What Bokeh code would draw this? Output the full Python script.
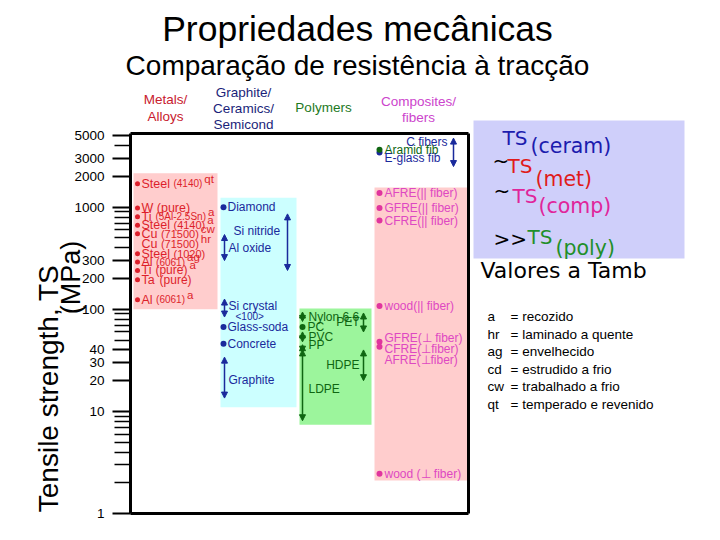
import math
from bokeh.plotting import figure
from bokeh.models import (Range1d, FixedTicker, ColumnDataSource, Arrow, NormalHead,
                          NumeralTickFormatter, Grid)
from bokeh.core.properties import value
from bokeh.embed import file_html
from bokeh.resources import INLINE

# ======================= DATA =======================
TITLE = "Propriedades mecânicas"
SUBTITLE = "Comparação de resistência à tracção"
Y_TITLE = "Tensile strength, TS"
Y_UNIT = "(MPa)"

y_major_ticks = [1, 10, 20, 30, 40, 100, 200, 300, 1000, 2000, 3000, 5000]
y_minor_ticks = [2, 3, 4, 5, 6, 7, 8, 9, 50, 60, 70, 80, 90,
                 400, 500, 600, 700, 800, 900, 4000]
axis_min, axis_max = 1, 5270

class_headers = [["Metals/", "Alloys"], ["Graphite/", "Ceramics/", "Semicond"],
                 ["Polymers"], ["Composites/", "fibers"]]
class_lo = [100, 11, 7.4, 2.1]
class_hi = [2150, 1240, 102, 1560]

metal_names = ["Steel", "W", "Ti", "Steel", "Cu", "Cu", "Steel", "Al", "Ti", "Ta", "Al"]
metal_grades = ["(4140)", "(pure)", "(5Al-2.5Sn)", "(4140)", "(71500)", "(71500)",
                "(1020)", "(6061)", "(pure)", "(pure)", "(6061)"]
metal_conditions = ["qt", "", "a", "a", "cw", "hr", "", "ag", "a", "", "a"]
metal_ts = [1700, 980, 805, 665, 550, 435, 350, 290, 240, 195, 124]

ceramic_points = ["Diamond", "Glass-soda", "Concrete"]
ceramic_point_ts = [1000, 67, 46]
ceramic_ranges = ["Si nitride", "Al oxide", "Si crystal", "Graphite"]
ceramic_range_notes = ["", "", "<100>", ""]
ceramic_lo = [240, 300, 84, 13.5]
ceramic_hi = [860, 540, 126, 34]

polymer_points = ["PC"]
polymer_point_ts = [67]
polymer_ranges = ["Nylon 6,6", "PVC", "PP", "LDPE", "PET", "HDPE"]
polymer_lo = [76, 48, 38, 8.1, 60, 20]
polymer_hi = [94, 60, 45, 40, 92, 40]

fiber_ranges = ["C fibers"]
fiber_lo = [2500]
fiber_hi = [4750]
fiber_points = ["Aramid fib", "E-glass fib"]
fiber_point_ts = [3650, 3430]

composite_names = ["AFRE(|| fiber)", "GFRE(|| fiber)", "CFRE(|| fiber)", "wood(|| fiber)",
                   "GFRE(⊥ fiber)", "CFRE(⊥fiber)", "AFRE(⊥fiber)", "wood (⊥ fiber)"]
composite_ts = [1380, 980, 740, 108, 48, 43, 32, 2.45]

summary_prefix = ["", "~", "~", ">>"]
summary_main = ["TS", "TS", "TS", "TS"]
summary_sub = ["(ceram)", "(met)", "(comp)", "(poly)"]
AMBIENT = "Valores a Tamb"

abbrevs = ["a", "hr", "ag", "cd", "cw", "qt"]
abbrev_meanings = ["= recozido", "= laminado a quente", "= envelhecido",
                   "= estrudido a frio", "= trabalhado a frio", "= temperado e revenido"]

# ======================= LAYOUT / STYLE =======================
FONT = "Liberation Sans"
FONT_WIDE = "DejaVu Sans"
RED = "#dd1f2b"
BLUE = "#1a2a9c"
GREEN = "#0f6612"
MAG_DOT = "#e0359e"
MAG_TXT = "#de48c2"
C_PINK = "#ffcdcd"
C_CYAN = "#ccffff"
C_GREEN = "#9cf59c"
C_LAV = "#cfcffa"

REF_ONE = 513.0                       # canvas row of TS = 1
PPD = (REF_ONE - 133.0) / math.log10(axis_max)


def Y(row):
    return 10 ** ((REF_ONE - row) / PPD)


def X(col):
    return col - 130.0


AW = {' ': 278, '(': 333, ')': 333, '-': 333, '.': 278, ',': 278, '/': 278, '|': 260,
      'A': 667, 'C': 722, 'S': 667, 'T': 611, 'W': 944, 'l': 222, 'i': 222, 't': 278,
      'r': 333, 'f': 278, 'm': 833, 'c': 500, 's': 500, 'y': 500}


def tw(s, size):
    w = 0
    for ch in s:
        if ch in AW:
            w += AW[ch]
        elif ch.isdigit():
            w += 556
        elif ch.isupper():
            w += 667
        else:
            w += 556
    return w / 1000.0 * size


p = figure(width=704, height=524, x_range=Range1d(X(0), X(704)), y_range=Range1d(Y(524), Y(0)),
           y_axis_type="log", x_axis_location=None, toolbar_location=None,
           output_backend="svg", min_border_left=0, min_border_right=0,
           min_border_top=0, min_border_bottom=0, outline_line_color=None,
           background_fill_color="white", border_fill_color="white")
for r in p.center:
    if isinstance(r, Grid):
        r.visible = False

ax = p.yaxis[0]
ax.fixed_location = 0
ax.ticker = FixedTicker(ticks=y_major_ticks, minor_ticks=y_minor_ticks)
ax.formatter = NumeralTickFormatter(format="0")
ax.bounds = (axis_min, axis_max)
ax.axis_line_width = 3
ax.axis_line_color = "black"
ax.major_tick_out = 18
ax.major_tick_in = 0
ax.minor_tick_out = 16
ax.minor_tick_in = 0
ax.major_tick_line_width = 2
ax.minor_tick_line_width = 1.5
ax.major_label_standoff = 8
ax.major_label_text_font = FONT
ax.major_label_text_font_size = "13.5px"
ax.major_label_text_color = "black"


def add_text(xs, ys, texts, color, size, align="left", xo=0, yo=0, baseline="middle",
             angle=0, font=FONT):
    n = len(texts)

    def col(v):
        return list(v) if isinstance(v, (list, tuple)) else [v] * n
    src = ColumnDataSource(dict(x=col(xs), y=col(ys), text=list(texts), xo=col(xo), yo=col(yo),
                                fs=[f"{s}px" for s in col(size)], c=col(color)))
    p.text(x="x", y="y", text="text", x_offset="xo", y_offset="yo", text_font_size="fs",
           source=src, text_color="c", text_align=align, text_baseline=baseline,
           text_font=value(font), angle=angle)


def add_arrows(xs, lo, hi, color):
    src = ColumnDataSource(dict(x=xs, lo=lo, hi=hi))
    p.add_layout(Arrow(start=NormalHead(size=6, fill_color=color, line_color=color, line_width=1),
                       end=NormalHead(size=6, fill_color=color, line_color=color, line_width=1),
                       x_start="x", y_start="lo", x_end="x", y_end="hi", source=src,
                       line_color=color, line_width=1.5))


# ---- class boxes ----
class_left = [3, 90, 169, 244]
class_right = [87, 166, 241, 337]
class_fill = [C_PINK, C_CYAN, C_GREEN, C_PINK]
p.quad(left=class_left, right=class_right, bottom=class_lo, top=class_hi,
       fill_color=class_fill, line_color=None)

# legend box
p.quad(left=[X(473)], right=[X(684)], bottom=[Y(258)], top=[Y(120)],
       fill_color=C_LAV, line_color=None)

# frame border
p.segment(x0=[0, 0, 338], y0=[axis_max, axis_min, axis_min],
          x1=[338, 338, 338], y1=[axis_max, axis_min, axis_max],
          line_color="black", line_width=3)

# ---- headers ----
header_x = [165, 243, 323, 418]
header_rows = [[99, 116], [92, 108, 124], [107], [101, 117]]
header_color = ["#c8202e", "#1b1f7a", "#1e7a1e", "#cc44cc"]
for lines, cx, rows, c in zip(class_headers, header_x, header_rows, header_color):
    add_text([X(cx)] * len(lines), [Y(r) for r in rows], lines, c, 13.5, align="center")

# ---- title ----
add_text([X(357)], [Y(28)], [TITLE], "black", 35.5, align="center")
add_text([X(357)], [Y(65)], [SUBTITLE], "black", 28, align="center")

# ---- y-axis title ----
add_text([X(48)], [Y(388)], [Y_TITLE], "black", 28, align="center", angle=math.pi / 2)
add_text([X(70)], [Y(277)], [Y_UNIT], "black", 27, align="center", angle=math.pi / 2)

# ---- metals ----
NAME_FS = 12.5
grade_fs = [10, 12.5, 10, 11, 11, 11, 11, 10, 12, 12, 10]
grade_xo = [tw(n + " ", NAME_FS) for n in metal_names]
cond_xo = [g + tw(s, f) + 2 for g, s, f in zip(grade_xo, metal_grades, grade_fs)]
metal_dot = [i for i in range(len(metal_names)) if i != 5]
p.scatter(x=[7] * len(metal_dot), y=[metal_ts[i] for i in metal_dot], size=5,
          color=RED, line_color=None)
add_text(11, metal_ts, metal_names, RED, NAME_FS)
add_text(11, metal_ts, metal_grades, RED, grade_fs, xo=grade_xo)
add_text(11, metal_ts, metal_conditions, RED, 11.5, xo=cond_xo, yo=-5)

# ---- ceramics ----
p.scatter(x=[93] * len(ceramic_points), y=ceramic_point_ts, size=6, color=BLUE, line_color=None)
add_text(97, ceramic_point_ts, ceramic_points, BLUE, 12)
cer_arrow_x = [157, 94, 94, 94]
cer_label_x = [103, 98, 98, 98]
cer_label_yo = [-11, 0, -2, 2]
add_arrows(cer_arrow_x, ceramic_lo, ceramic_hi, BLUE)
cer_mid = [math.sqrt(a * b) for a, b in zip(ceramic_lo, ceramic_hi)]
add_text(cer_label_x, cer_mid, ceramic_ranges, BLUE, 12, yo=cer_label_yo)
add_text([x + 7 for x in cer_label_x], cer_mid, ceramic_range_notes, BLUE, 10,
         yo=[y + 10 for y in cer_label_yo])

# ---- polymers ----
p.scatter(x=[172], y=polymer_point_ts, size=6, color=GREEN, line_color=None)
add_text(177, polymer_point_ts, polymer_points, GREEN, 12)
pol_arrow_x = [172, 172, 172, 172, 233, 233]
add_arrows(pol_arrow_x, polymer_lo, polymer_hi, GREEN)
pol_mid = [math.sqrt(a * b) for a, b in zip(polymer_lo, polymer_hi)]
pol_label_yo = [0, 0, -3, 4, 0, 0]
add_text(178, pol_mid[:4], polymer_ranges[:4], GREEN, 12, yo=pol_label_yo[:4])
add_text(229, pol_mid[4:], polymer_ranges[4:], GREEN, 12, align="right", yo=pol_label_yo[4:])

# ---- fibers ----
add_arrows([323], fiber_lo, fiber_hi, BLUE)
fib_mid = [math.sqrt(a * b) for a, b in zip(fiber_lo, fiber_hi)]
add_text(317, fib_mid, fiber_ranges, BLUE, 12, align="right", yo=-10)
p.scatter(x=[249, 249], y=[fiber_point_ts[1], fiber_point_ts[0]], size=6,
          color=[BLUE, GREEN], line_color=None)
add_text(254, fiber_point_ts, fiber_points, [GREEN, BLUE], 12, yo=[0, 5])

# ---- composites ----
comp_dot = [i for i in range(len(composite_names)) if i != 6]
p.scatter(x=[249] * len(comp_dot), y=[composite_ts[i] for i in comp_dot], size=6,
          color=MAG_DOT, line_color=None)
add_text(254, composite_ts, composite_names, MAG_TXT, 12, yo=[0, 0, 0, 0, -4, 2, 0, 0])

# ---- summary legend ----
sum_prefix_x = [492, 492, 493, 493]
sum_prefix_row = [140, 160, 190, 238]
sum_main_x = [502, 507, 512, 527]
sum_main_row = [137, 165, 195, 236]
sum_sub_x = [530, 535, 538, 555]
sum_sub_row = [145, 178, 205, 247]
sum_colors = ["#1c1cae", "#e01b1b", "#e0259a", "#1f8f2a"]
add_text([X(v) for v in sum_prefix_x], [Y(r) for r in sum_prefix_row], summary_prefix,
         "black", 20, font=FONT_WIDE)
add_text([X(v) for v in sum_main_x], [Y(r) for r in sum_main_row], summary_main,
         sum_colors, 20, font=FONT_WIDE)
add_text([X(v) for v in sum_sub_x], [Y(r) for r in sum_sub_row], summary_sub,
         sum_colors, 20.5, font=FONT_WIDE)
add_text([X(480)], [Y(270)], [AMBIENT], "black", 22, font=FONT_WIDE)

abbr_rows = [316 + 17.5 * i for i in range(len(abbrevs))]
add_text(X(487), [Y(r) for r in abbr_rows], abbrevs, "black", 13.5)
add_text(X(510), [Y(r) for r in abbr_rows], abbrev_meanings, "black", 13.5)

open("out.html", "w").write(file_html(p, INLINE))
